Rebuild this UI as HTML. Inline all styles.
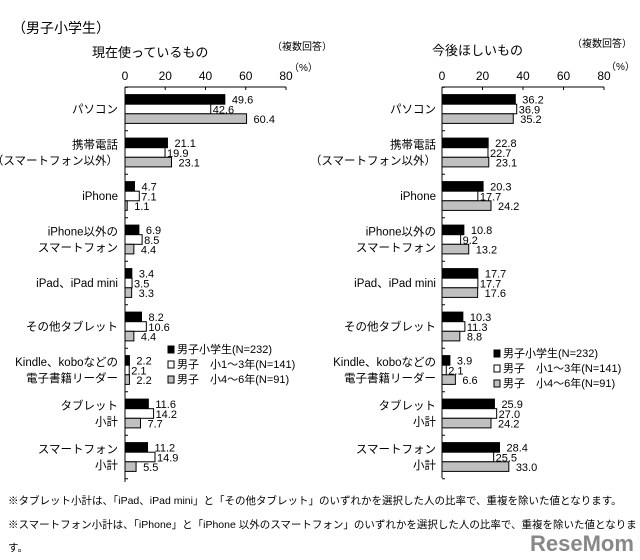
<!DOCTYPE html>
<html><head><meta charset="utf-8">
<style>
body{margin:0;background:#fff;width:640px;height:555px;overflow:hidden;font-family:"Liberation Sans","Noto Sans CJK JP",sans-serif;}
svg text{font-family:"Liberation Sans","Noto Sans CJK JP",sans-serif;fill:#000;}
</style></head><body>
<svg id="c" width="640" height="555">
<text x="12" y="33" font-size="14">（男子小学生）</text>
<text x="92" y="57" font-size="13">現在使っているもの</text>
<text x="272" y="50" font-size="10">（複数回答）</text>
<text x="289" y="71" font-size="10">（%）</text>
<text x="432" y="55" font-size="13">今後ほしいもの</text>
<text x="572" y="47" font-size="10">（複数回答）</text>
<text x="606" y="70" font-size="10">（%）</text>
<text x="8" y="504" font-size="10.5">※タブレット小計は、「iPad、iPad mini」と「その他タブレット」のいずれかを選択した人の比率で、重複を除いた値となります。</text>
<text x="8" y="528" font-size="10.5">※スマートフォン小計は、「iPhone」と「iPhone 以外のスマートフォン」のいずれかを選択した人の比率で、重複を除いた値となりま</text>
<text x="8" y="551" font-size="10.5">す。</text>
<text x="530" y="551" font-size="22" font-weight="bold" style="fill:#888">ReseMom</text>
</svg>
<script>
const categories=[["パソコン"],["携帯電話","（スマートフォン以外）"],["iPhone"],["iPhone以外の","スマートフォン"],["iPad、iPad mini"],["その他タブレット"],["Kindle、koboなどの","電子書籍リーダー"],["タブレット","小計"],["スマートフォン","小計"]];
const seriesNames=["男子小学生(N=232)","男子　小1～3年(N=141)","男子　小4～6年(N=91)"];
const nowAll=[49.6,21.1,4.7,6.9,3.4,8.2,2.2,11.6,11.2];
const nowLow=[42.6,19.9,7.1,8.5,3.5,10.6,2.1,14.2,14.9];
const nowHigh=[60.4,23.1,1.1,4.4,3.3,4.4,2.2,7.7,5.5];
const wantAll=[36.2,22.8,20.3,10.8,17.7,10.3,3.9,25.9,28.4];
const wantLow=[36.9,22.7,17.7,9.2,17.7,11.3,2.1,27.0,25.5];
const wantHigh=[35.2,23.1,24.2,13.2,17.6,8.8,6.6,24.2,33.0];
const ticks=[0,20,40,60,80];
const svg=document.getElementById('c');const NS='http://www.w3.org/2000/svg';
function mk(t,a,p){const e=document.createElementNS(NS,t);for(const k in a)e.setAttribute(k,a[k]);(p||svg).appendChild(e);return e;}
const fills=['#000','#fff','#c0c0c0'];
function panel(x0,x80,top,bottom,data,labRight,legX,legY,pre){
  const g=mk('g',{});
  
  
  const sx=v=>x0+(x80-x0)*v/80;
  const pitch=43.5,c0=109,bh=9.6;
  const cy=i=>c0+i*pitch;
  ticks.forEach(t=>{const tx=mk('text',{x:sx(t),y:80,'font-size':12,'text-anchor':'middle'},g);tx.textContent=t;
    
    
    mk('line',{x1:sx(t),x2:sx(t),y1:top,y2:top+3,stroke:'#000'},g);});
  mk('line',{x1:x0,x2:x80,y1:top,y2:top,stroke:'#000'},g);
  mk('line',{x1:x0,x2:x0,y1:top,y2:bottom,stroke:'#000'},g);
  for(let i=0;i<=9;i++){const y=c0-pitch/2+i*pitch;mk('line',{x1:x0,x2:x0+3,y1:y,y2:y,stroke:'#000'},g);}
  categories.forEach((lab,i)=>{
    const y=cy(i);
    lab.forEach((l,j)=>{const t=mk('text',{x:labRight,y:y+4+(lab.length==2?(j?8:-8):0),'font-size':11.5,'text-anchor':'end'},g);t.textContent=l;
      
      });
    data.forEach((s,k)=>{
      const by=y-1.5*bh+k*bh;
      const r=mk('rect',{x:x0,y:by,width:Math.max(sx(s[i])-x0,1),height:bh,fill:fills[k],stroke:'#000','stroke-width':1},g);
      
      
      const t=mk('text',{x:sx(s[i])+(k==1?2:7),y:by+bh-0.5,'font-size':11},g);t.textContent=s[i].toFixed(1);
      
      
    });
  });
  seriesNames.forEach((n,k)=>{
    const y=legY+k*15;
    const r=mk('rect',{x:legX,y:y-7,width:6,height:7,fill:fills[k],stroke:'#000'},g);
    
    
    const t=mk('text',{x:legX+9,y:y,'font-size':11},g);t.textContent=n;
    
    
  });
}
panel(125,286,87,482,[nowAll,nowLow,nowHigh],118,168,353,'left');
panel(442,604,87,478,[wantAll,wantLow,wantHigh],436,494,357,'right');
</script>
</body></html>
